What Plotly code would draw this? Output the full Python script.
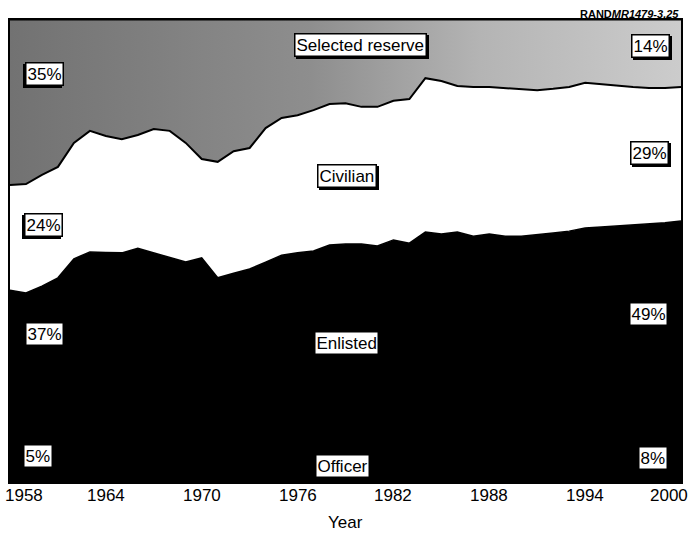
import plotly.graph_objects as go

years = list(range(1958, 2001))

officer = [5.0, 5.0, 5.1, 5.2, 5.3, 5.5, 5.6, 5.6, 5.4, 5.3, 5.4, 5.6, 6.0, 6.4, 6.6,
           6.7, 6.8, 6.8, 6.7, 6.7, 6.6, 6.6, 6.6, 6.7, 6.8, 6.9, 7.0, 7.0, 7.1, 7.1,
           7.2, 7.2, 7.3, 7.4, 7.6, 7.7, 7.8, 7.9, 7.9, 8.0, 8.0, 8.0, 8.0]
enlisted = [36.5, 35.9, 37.3, 39.0, 43.0, 44.3, 44.1, 44.0, 45.2, 44.3, 43.3, 42.0, 42.5,
            37.8, 38.6, 39.4, 40.8, 42.3, 42.9, 43.3, 44.7, 44.9, 44.9, 44.4, 45.6, 44.8,
            47.1, 46.7, 47.0, 46.1, 46.5, 46.0, 45.9, 46.1, 46.3, 46.6, 47.2, 47.3, 47.5,
            47.6, 47.8, 48.1, 48.5]
civilian = [22.8, 23.6, 24.1, 24.0, 25.1, 26.2, 25.2, 24.6, 24.5, 26.8, 27.3, 25.8, 21.4,
            25.1, 26.4, 26.2, 29.0, 29.7, 29.8, 30.5, 30.5, 30.5, 29.7, 30.1, 30.1, 31.2,
            33.3, 33.1, 31.6, 32.3, 31.8, 32.1, 31.9, 31.3, 31.2, 31.2, 31.4, 30.9, 30.3,
            29.9, 29.5, 29.2, 29.0]
reserve = [35.7, 35.5, 33.5, 31.8, 26.6, 24.0, 25.1, 25.8, 24.9, 23.6, 24.0, 26.6, 30.1,
           30.7, 28.4, 27.7, 23.4, 21.2, 20.6, 19.5, 18.2, 18.0, 18.8, 18.8, 17.5, 17.1,
           12.6, 13.2, 14.3, 14.5, 14.5, 14.7, 14.9, 15.2, 14.9, 14.5, 13.6, 13.9, 14.3,
           14.5, 14.7, 14.7, 14.5]

tick_years = [1958, 1964, 1970, 1976, 1982, 1988, 1994, 2000]
tick_labels = [str(y) for y in tick_years]

FONT = "Liberation Sans, Arial, Helvetica, sans-serif"

fig = go.Figure()
fig.add_trace(go.Scatter(x=years, y=officer, name="Officer", stackgroup="one",
                         mode="lines", line=dict(color="black", width=2),
                         fillcolor="black"))
fig.add_trace(go.Scatter(x=years, y=enlisted, name="Enlisted", stackgroup="one",
                         mode="lines", line=dict(color="black", width=1.5),
                         fillcolor="black"))
fig.add_trace(go.Scatter(x=years, y=civilian, name="Civilian", stackgroup="one",
                         mode="lines", line=dict(color="black", width=2),
                         fillcolor="white"))
fig.add_trace(go.Scatter(x=years, y=reserve, name="Selected reserve", stackgroup="one",
                         mode="lines", line=dict(color="black", width=1),
                         fillgradient=dict(type="horizontal",
                                           colorscale=[[0, "#727272"], [0.45, "#8e8e8e"],
                                                       [0.7, "#b4b4b4"], [1, "#cccccc"]])))

# plot area in pixels: left 10, right 681, top 20, bottom 482
def px2paper(px, py):
    return (px - 10) / 671.0, (482 - py) / 462.0

labels = [
    ("Selected reserve", 360, 45, True, 2),
    ("Civilian", 347, 176, True, 2),
    ("Enlisted", 346, 343, False, 0),
    ("Officer", 342, 466, False, 0),
    ("35%", 44, 74, True, -2),
    ("24%", 43, 225, True, -2),
    ("37%", 44, 334, False, 0),
    ("5%", 38, 456, False, 0),
    ("14%", 650, 46, True, 2),
    ("29%", 649, 153, True, 2),
    ("49%", 648, 314, False, 0),
    ("8%", 653, 458, False, 0),
]
annotations = []
for text, px, py, shadow, sx in labels:
    xp, yp = px2paper(px, py)
    if shadow:
        annotations.append(dict(x=xp, y=yp, xref="paper", yref="paper", text=text,
                                xanchor="center", yanchor="middle",
                                showarrow=False, font=dict(family=FONT, size=17, color="black"),
                                bgcolor="black", bordercolor="black", borderwidth=1.5,
                                borderpad=1, xshift=sx, yshift=-2))
    annotations.append(dict(x=xp, y=yp, xref="paper", yref="paper", text=text,
                            xanchor="center", yanchor="middle",
                            showarrow=False, font=dict(family=FONT, size=17, color="black"),
                            bgcolor="white", bordercolor="black", borderwidth=1.5,
                            borderpad=1))

for i, (yr, lab) in enumerate(zip(tick_years, tick_labels)):
    if i == 0:
        anchor, shift = "left", -7
    elif i == len(tick_years) - 1:
        anchor, shift = "right", 9
    else:
        anchor, shift = "center", 0
    annotations.append(dict(x=yr, y=(482 - 495) / 462.0, xref="x", yref="paper", text=lab,
                            showarrow=False, xanchor=anchor, yanchor="middle", xshift=shift,
                            font=dict(family=FONT, size=17, color="black")))

annotations.append(dict(x=(345 - 10) / 671.0, y=(482 - 522) / 462.0, xref="paper", yref="paper",
                        text="Year", showarrow=False, xanchor="center", yanchor="middle",
                        font=dict(family=FONT, size=17, color="black")))
annotations.append(dict(x=1.0, y=(482 - 14) / 462.0, xref="paper", yref="paper",
                        text="<b>RAND</b><b><i>MR1479-3.25</i></b>", showarrow=False,
                        xanchor="right", yanchor="middle",
                        font=dict(family=FONT, size=11, color="black")))

fig.update_layout(
    width=694, height=533,
    margin=dict(l=10, r=13, t=20, b=51),
    paper_bgcolor="white", plot_bgcolor="white",
    showlegend=False,
    annotations=annotations,
    xaxis=dict(range=[1958, 2000], showgrid=False, zeroline=False, showticklabels=False,
               ticks="", showline=True, linecolor="black", linewidth=2, mirror=True),
    yaxis=dict(range=[0, 100], showgrid=False, zeroline=False, showticklabels=False,
               ticks="", showline=True, linecolor="black", linewidth=2, mirror=True),
)

fig.write_html("out.html", config={"displayModeBar": False},
               post_script="document.body.style.margin='0';document.body.style.overflow='hidden';")
